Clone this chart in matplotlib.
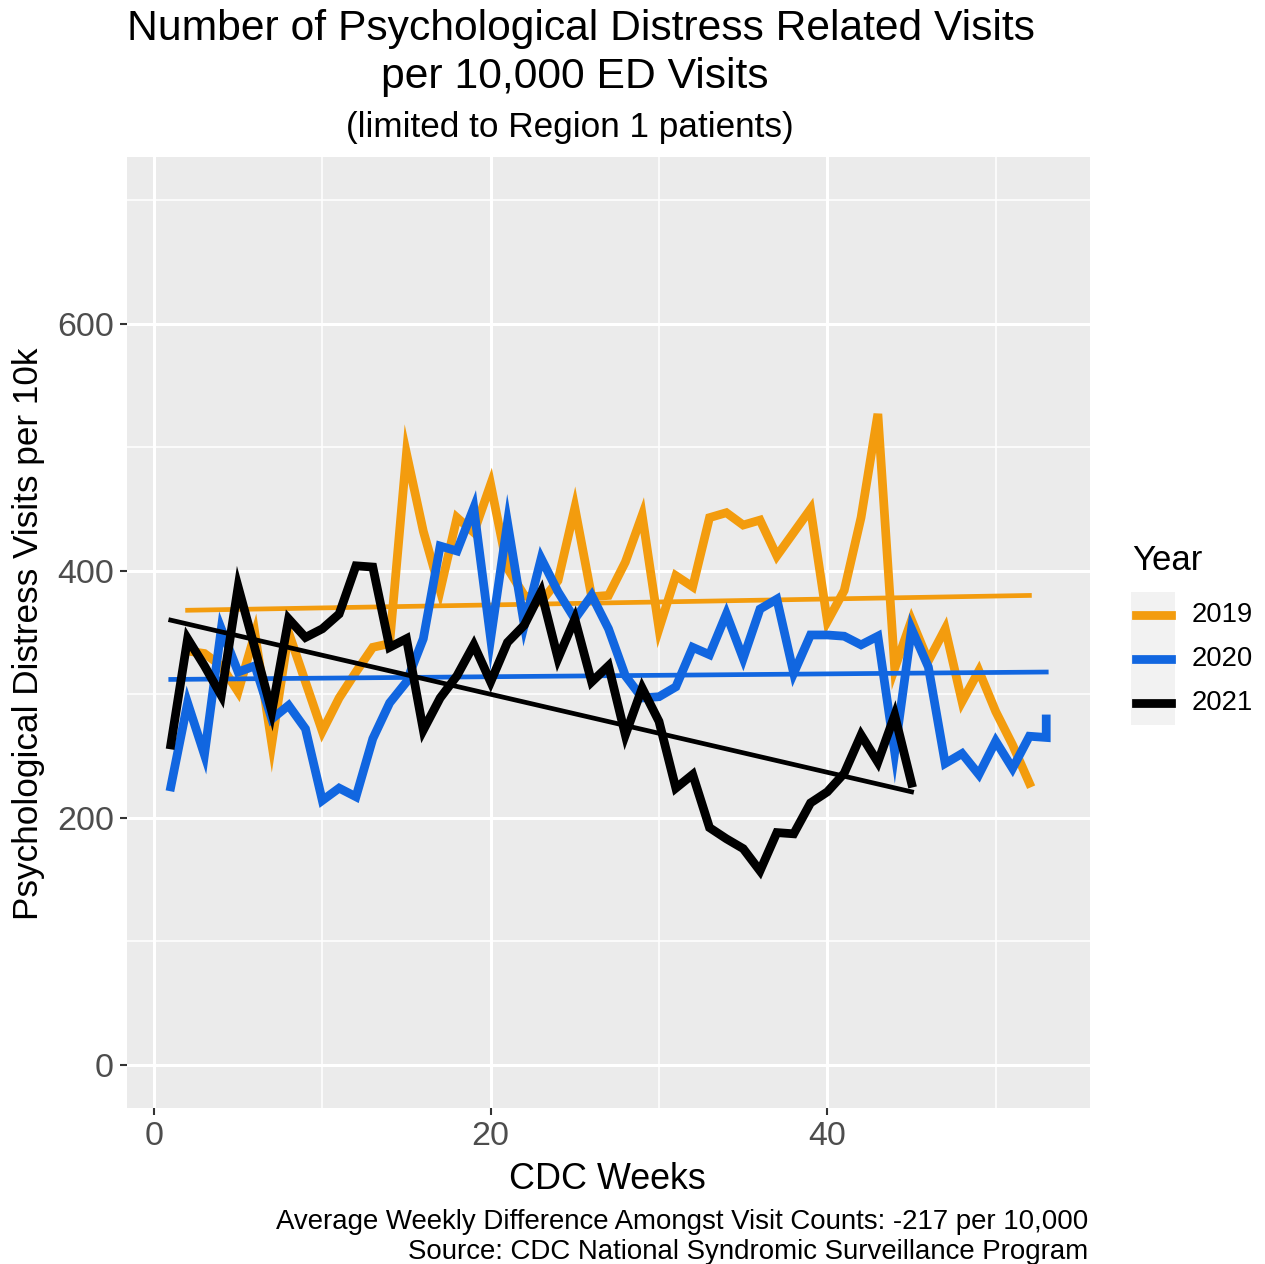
import numpy as np
import matplotlib.pyplot as plt
from matplotlib.lines import Line2D
from matplotlib.patches import Rectangle

plt.rcParams['font.family'] = ['Liberation Sans', 'DejaVu Sans']

# weekly values per 10k ED visits
weeks_2019 = list(range(2, 53))
visits_2019 = [335, 333, 323, 302, 349, 260, 350, 310, 270, 297,
               318, 338, 341, 495, 432, 384, 443, 431, 470, 402,
               380, 375, 392, 451, 379, 380, 407, 445, 353, 396,
               387, 443, 447, 437, 441, 412, 431, 450, 359, 384,
               443, 527, 321, 360, 327, 353, 294, 319, 286, 259,
               228]

weeks_2020 = list(range(1, 54)) + [53]
visits_2020 = [225, 293, 251, 353, 318, 323, 280, 291, 272, 214,
               224, 217, 264, 293, 310, 345, 420, 416, 451, 345,
               439, 356, 410, 383, 361, 380, 353, 315, 297, 298,
               306, 338, 332, 365, 329, 369, 377, 317, 348, 348,
               347, 340, 347, 253, 353, 322, 244, 252, 235, 262,
               240, 266, 265, 280]

weeks_2021 = list(range(1, 46))
visits_2021 = [259, 345, 323, 299, 387, 337, 286, 361, 346, 353,
               365, 404, 403, 338, 345, 271, 297, 315, 340, 310,
               342, 356, 383, 329, 361, 310, 323, 267, 305, 278,
               224, 235, 192, 183, 175, 157, 188, 187, 212, 221,
               236, 267, 245, 283, 228]

# linear trend per year (value at first and last week)
trend_2019 = [368, 380]
trend_2020 = [312, 318]
trend_2021 = [360, 221]

years = ['2019', '2020', '2021']
colors = ['#F39C0E', '#1166E0', '#000000']
series = [(weeks_2019, visits_2019, trend_2019),
          (weeks_2020, visits_2020, trend_2020),
          (weeks_2021, visits_2021, trend_2021)]

W, H = 1265, 1264
fig = plt.figure(figsize=(W / 100, H / 100), dpi=100)
ax = fig.add_axes([127 / W, 1 - 1108 / H, (1090 - 127) / W, (1108 - 157) / H])
ax.set_facecolor('#EBEBEB')

for (x, y, tr), c in zip(series, colors):
    ax.plot(x, y, color=c, lw=6.3, solid_joinstyle='miter', zorder=3)
    ax.plot([min(x), max(x)], tr, color=c, lw=3.4, zorder=3)

ax.set_xlim(-1.6, 55.6)
ax.set_ylim(-35, 735)
ax.set_xticks([0, 20, 40])
ax.set_yticks([0, 200, 400, 600])
ax.set_xticks([10, 30, 50], minor=True)
ax.set_yticks([100, 300, 500, 700], minor=True)
ax.grid(which='major', color='white', lw=2.2)
ax.grid(which='minor', color='white', lw=1.1)
ax.set_axisbelow(True)
for s in ax.spines.values():
    s.set_visible(False)
ax.tick_params(which='major', length=5, width=1.5, color='#333333',
               labelsize=24.5, labelcolor='#4D4D4D', pad=4.5)
ax.tick_params(which='minor', length=0)

# axis titles
fig.text(607 / W, 1 - 1189 / H, 'CDC Weeks', ha='center', va='baseline', fontsize=25.8)
fig.text(29 / W, 1 - 634 / H, 'Psychological Distress Visits per 10k',
         ha='center', va='center', rotation=90, fontsize=25.3)

# titles
fig.text(581 / W, 1 - 40 / H, 'Number of Psychological Distress Related Visits',
         ha='center', va='baseline', fontsize=30.7)
fig.text(575 / W, 1 - 88 / H, 'per 10,000 ED Visits',
         ha='center', va='baseline', fontsize=30.7)
fig.text(570 / W, 1 - 137 / H, '(limited to Region 1 patients)',
         ha='center', va='baseline', fontsize=25.3)

# caption
fig.text(1088 / W, 1 - 1229 / H,
         'Average Weekly Difference Amongst Visit Counts: -217 per 10,000',
         ha='right', va='baseline', fontsize=19.9)
fig.text(1088 / W, 1 - 1259 / H,
         'Source: CDC National Syndromic Surveillance Program',
         ha='right', va='baseline', fontsize=19.9)

# legend, laid out by hand like the ggplot guide
fig.text(1132 / W, 1 - 561 / H, 'Year', ha='left', va='center', fontsize=25)
fig.patches.append(Rectangle((1131 / W, 1 - 725 / H), 44 / W, 133 / H,
                             transform=fig.transFigure, facecolor='#F2F2F2',
                             edgecolor='none', zorder=0))
for i, (yr, c) in enumerate(zip(years, colors)):
    yk = 1 - (615 + 44 * i) / H
    fig.add_artist(Line2D([1136 / W, 1171 / W], [yk, yk], color=c, lw=6.3,
                          transform=fig.transFigure))
    fig.text(1192 / W, yk, yr, ha='left', va='center', fontsize=19.8)

fig.savefig('out.png', dpi=100, facecolor='white')
